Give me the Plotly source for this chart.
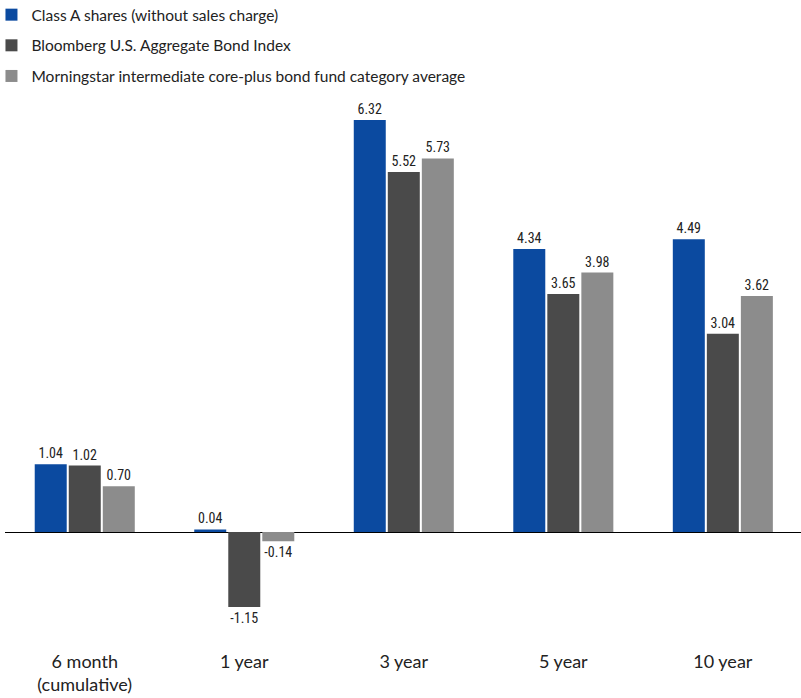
import plotly.graph_objects as go

categories = ["6 month<br>(cumulative)", "1 year", "3 year", "5 year", "10 year"]
series_names = [
    "Class A shares (without sales charge)",
    "Bloomberg U.S. Aggregate Bond Index",
    "Morningstar intermediate core-plus bond fund category average",
]
class_a = [1.04, 0.04, 6.32, 4.34, 4.49]
bloomberg_agg = [1.02, -1.15, 5.52, 3.65, 3.04]
morningstar_avg = [0.70, -0.14, 5.73, 3.98, 3.62]

colors = ["#0b4aa0", "#4a4a4a", "#8c8c8c"]
label_font = dict(family="Liberation Sans Narrow, Roboto Condensed, Roboto, sans-serif",
                  size=14, color="#222222")

fig = go.Figure()
for i, (name, vals) in enumerate(zip(series_names, [class_a, bloomberg_agg, morningstar_avg])):
    fig.add_trace(go.Bar(
        x=categories,
        y=vals,
        name=name,
        legendgroup=f"g{i}",
        marker=dict(color=colors[i], line=dict(width=0)),
        text=[f"{v:.2f}" for v in vals],
        textposition="outside",
        textfont=label_font,
        cliponaxis=False,
        hoverinfo="skip",
    ))

fig.update_layout(
    width=801,
    height=698,
    barmode="group",
    bargap=0.36,
    bargroupgap=0.06,
    plot_bgcolor="white",
    paper_bgcolor="white",
    margin=dict(l=5, r=0, t=100, b=53, autoexpand=False),
    font=dict(family="Lato, Open Sans, sans-serif", size=16, color="#222222"),
    showlegend=True,
    legend=dict(
        x=-0.017, y=1.187, xanchor="left", yanchor="top",
        orientation="v", traceorder="grouped",
        tracegroupgap=7.5,
        font=dict(family="Lato, Open Sans, sans-serif", size=15.5, color="#222222"),
        itemsizing="constant",
        bgcolor="rgba(0,0,0,0)",
    ),
    xaxis=dict(
        range=[-0.5, 4.49],
        showgrid=False,
        showline=False,
        ticks="",
        ticklabelstandoff=4,
        tickfont=dict(family="Lato, Open Sans, sans-serif", size=18, color="#222222"),
        fixedrange=True,
    ),
    yaxis=dict(
        range=[-1.733, 6.626],
        showgrid=False,
        showticklabels=False,
        zeroline=True,
        zerolinecolor="#000000",
        zerolinewidth=1,
        showline=False,
        fixedrange=True,
    ),
)

fig.write_html("out.html")
